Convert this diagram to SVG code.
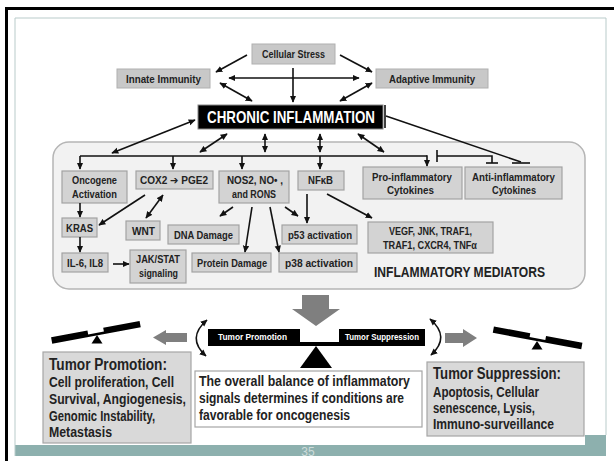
<svg xmlns="http://www.w3.org/2000/svg" width="614" height="461" viewBox="0 0 614 461">
<defs>
<style>
text{font-family:"Liberation Sans",Arial,"DejaVu Sans",sans-serif;font-weight:bold;fill:#222}
.bx{fill:#d3d3d3;stroke:#a3a3a3;stroke-width:1.2}
.tb{fill:#c8c8c8;stroke:#b0b0b0;stroke-width:1}
.t11{font-size:11px}
.t10{font-size:11px}
.c{stroke:#111;stroke-width:1.6;fill:none}
.a{marker-end:url(#ah)}
.d{marker-start:url(#ah);marker-end:url(#ah)}
.g{fill:#7f7f7f}
.big{font-size:16px}
.body{font-size:14.5px}
</style>
<marker id="ah" viewBox="0 0 10 10" refX="9" refY="5" markerWidth="7" markerHeight="7" markerUnits="userSpaceOnUse" orient="auto-start-reverse"><path d="M0,0.5 L10,5 L0,9.5 z" fill="#111"/></marker>
</defs>
<rect width="614" height="461" fill="#fff"/>
<rect x="15" y="435" width="591" height="21" fill="#8db0ae"/>
<rect x="15" y="18" width="570" height="427" fill="#fff"/>
<path d="M15,456 V18 H606 V435" fill="none" stroke="#b9cbca" stroke-width="1"/>
<path d="M6.5,461 V8.5 H614" fill="none" stroke="#000" stroke-width="3"/>
<text x="308" y="456" text-anchor="middle" style="font-size:12px;font-weight:normal;fill:#cddcdb">35</text>

<g id="panel">
<rect x="53" y="142" width="532" height="147" rx="16" fill="#f2f2f2" stroke="#b5b5b5" stroke-width="1.5"/>
<text x="374" y="277" textLength="171" lengthAdjust="spacingAndGlyphs" style="font-size:14px">INFLAMMATORY MEDIATORS</text>
</g>

<g id="cellular-stress"><rect class="tb" x="252" y="44" width="83" height="20"/><text class="t10" x="262" y="58" textLength="63" lengthAdjust="spacingAndGlyphs">Cellular Stress</text></g>
<g id="innate-immunity"><rect class="tb" x="117" y="69" width="93" height="19"/><text class="t10" x="126" y="82.5" textLength="75" lengthAdjust="spacingAndGlyphs">Innate Immunity</text></g>
<g id="adaptive-immunity"><rect class="tb" x="376" y="69" width="112" height="19"/><text class="t10" x="389" y="82.5" textLength="86" lengthAdjust="spacingAndGlyphs">Adaptive Immunity</text></g>
<g id="chronic-inflammation"><rect x="198" y="105" width="185" height="24" fill="#000" stroke="#888" stroke-width="1"/><text x="207" y="123" textLength="168" lengthAdjust="spacingAndGlyphs" style="font-size:16.5px;fill:#fff">CHRONIC INFLAMMATION</text></g>

<g id="oncogene"><rect class="bx" x="62" y="171" width="65" height="32"/><text class="t11" x="72" y="184" textLength="45" lengthAdjust="spacingAndGlyphs">Oncogene</text><text class="t11" x="72" y="197.5" textLength="45" lengthAdjust="spacingAndGlyphs">Activation</text></g>
<g id="cox2"><rect class="bx" x="136" y="171" width="77" height="18"/><text class="t11" x="140" y="184" textLength="68" lengthAdjust="spacingAndGlyphs">COX2 ➔ PGE2</text></g>
<g id="nos2"><rect class="bx" x="219" y="171" width="70" height="32"/><text class="t11" x="227" y="184" textLength="56" lengthAdjust="spacingAndGlyphs">NOS2, NO• ,</text><text class="t11" x="232" y="197.5" textLength="44" lengthAdjust="spacingAndGlyphs">and RONS</text></g>
<g id="nfkb"><rect class="bx" x="298" y="171" width="46" height="19"/><text class="t11" x="308" y="184" textLength="25" lengthAdjust="spacingAndGlyphs">NFκB</text></g>
<g id="pro-inflammatory"><rect class="bx" x="363" y="167" width="99" height="32"/><text class="t11" x="372" y="181" textLength="80" lengthAdjust="spacingAndGlyphs">Pro-inflammatory</text><text class="t11" x="387" y="194" textLength="47" lengthAdjust="spacingAndGlyphs">Cytokines</text></g>
<g id="anti-inflammatory"><rect class="bx" x="465" y="167" width="97" height="32"/><text class="t11" x="472" y="181" textLength="83" lengthAdjust="spacingAndGlyphs">Anti-inflammatory</text><text class="t11" x="492" y="194" textLength="44" lengthAdjust="spacingAndGlyphs">Cytokines</text></g>
<g id="kras"><rect class="bx" x="62" y="218" width="35" height="19"/><text class="t11" x="66" y="231.5" textLength="27" lengthAdjust="spacingAndGlyphs">KRAS</text></g>
<g id="wnt"><rect class="bx" x="126" y="221" width="34" height="19"/><text class="t11" x="132" y="234.5" textLength="23" lengthAdjust="spacingAndGlyphs">WNT</text></g>
<g id="dna-damage"><rect class="bx" x="168" y="225" width="71" height="19"/><text class="t11" x="174" y="238.5" textLength="59" lengthAdjust="spacingAndGlyphs">DNA Damage</text></g>
<g id="p53"><rect class="bx" x="282" y="225" width="75" height="19"/><text class="t11" x="288" y="238.5" textLength="64" lengthAdjust="spacingAndGlyphs">p53 activation</text></g>
<g id="vegf"><rect class="bx" x="368" y="222" width="125" height="31"/><text class="t11" x="389" y="235" textLength="83" lengthAdjust="spacingAndGlyphs">VEGF, JNK, TRAF1,</text><text class="t11" x="383" y="248.5" textLength="94" lengthAdjust="spacingAndGlyphs">TRAF1, CXCR4, TNFα</text></g>
<g id="il6"><rect class="bx" x="62" y="253" width="46" height="19"/><text class="t11" x="67" y="266.5" textLength="36" lengthAdjust="spacingAndGlyphs">IL-6, IL8</text></g>
<g id="jakstat"><rect class="bx" x="130" y="250" width="56" height="33"/><text class="t11" x="136" y="263" textLength="44" lengthAdjust="spacingAndGlyphs">JAK/STAT</text><text class="t11" x="139" y="277" textLength="39" lengthAdjust="spacingAndGlyphs">signaling</text></g>
<g id="protein-damage"><rect class="bx" x="192" y="253" width="79" height="19"/><text class="t11" x="197" y="266.5" textLength="70" lengthAdjust="spacingAndGlyphs">Protein Damage</text></g>
<g id="p38"><rect class="bx" x="279" y="253" width="78" height="19"/><text class="t11" x="285" y="266.5" textLength="68" lengthAdjust="spacingAndGlyphs">p38 activation</text></g>

<g id="connectors">
<line class="c a" x1="247" y1="55" x2="216" y2="72"/>
<line class="c a" x1="340" y1="55" x2="372" y2="72"/>
<line class="c a" x1="293" y1="68" x2="293" y2="102"/>
<line class="c d" x1="229" y1="78" x2="359" y2="78"/>
<line class="c d" x1="220" y1="83" x2="252" y2="101"/>
<line class="c d" x1="372" y1="83" x2="340" y2="101"/>
<line class="c d" x1="195" y1="120" x2="112" y2="153"/>
<line class="c d" x1="227" y1="134" x2="200" y2="152"/>
<line class="c d" x1="265" y1="134" x2="265" y2="152"/>
<line class="c d" x1="320" y1="134" x2="320" y2="152"/>
<line class="c d" x1="358" y1="134" x2="384" y2="152"/>
<line class="c" x1="385" y1="105" x2="385" y2="128"/>
<line class="c" x1="386" y1="116" x2="521" y2="162"/>
<line class="c" x1="512" y1="163" x2="530" y2="163"/>
<line class="c" x1="80" y1="156" x2="427" y2="156"/>
<line class="c a" x1="80" y1="156" x2="80" y2="169"/>
<line class="c a" x1="173" y1="156" x2="173" y2="169"/>
<line class="c a" x1="242" y1="156" x2="242" y2="169"/>
<line class="c a" x1="320" y1="156" x2="320" y2="169"/>
<line class="c a" x1="427" y1="155.2" x2="427" y2="166"/>
<path class="c" d="M437,156 H492 V163"/>
<line class="c" x1="437" y1="150" x2="437" y2="162"/>
<line class="c" x1="486" y1="163" x2="498" y2="163"/>
<line class="c a" x1="80" y1="203" x2="80" y2="217"/>
<line class="c a" x1="145" y1="195" x2="99" y2="225"/>
<line class="c d" x1="163" y1="195" x2="146" y2="218"/>
<line class="c a" x1="80" y1="237" x2="80" y2="252"/>
<line class="c a" x1="113" y1="264" x2="129" y2="264"/>
<line class="c a" x1="233" y1="207" x2="220" y2="216"/>
<line class="c a" x1="252" y1="207" x2="245" y2="252"/>
<line class="c a" x1="270" y1="207" x2="279" y2="252"/>
<line class="c a" x1="285" y1="207" x2="298" y2="216"/>
<line class="c a" x1="307" y1="194" x2="307" y2="223"/>
<line class="c a" x1="327" y1="194" x2="372" y2="218"/>
<path class="c d" d="M207,320 Q186,338 206,356"/>
<path class="c d" d="M430,319 Q451,337 431,355"/>
<polygon class="g" points="302,295 329,295 329,309 340,309 316,326 292,309 302,309"/>
<polygon class="g" points="187,333 166,333 166,330 153,337.5 166,345 166,342 187,342"/>
<polygon class="g" points="445,333 463,333 463,329 477,338 463,347 463,343 445,343"/>
</g>

<g id="balance">
<path d="M208,329 H300 V342 H339 V329 H425 V346 H208 Z" fill="#000"/>
<polygon points="316,346 300,368 332,368" fill="#000"/>
<text x="218" y="340" textLength="69" lengthAdjust="spacingAndGlyphs" style="font-size:8.5px;fill:#fff">Tumor Promotion</text>
<text x="345" y="340" textLength="74" lengthAdjust="spacingAndGlyphs" style="font-size:8.5px;fill:#fff">Tumor Suppression</text>
</g>
<g id="seesaw-left">
<path transform="translate(96.5,335.5) rotate(-10.5)" d="M-45,-6.5 H-8 V-2.5 H8 V-6.5 H45 V0 H-45 Z" fill="#000"/>
<polygon points="97,335 91.5,343.5 102.5,343.5" fill="#000"/>
</g>
<g id="seesaw-right">
<path transform="translate(537,341) rotate(10.5)" d="M-45,-6.5 H-8 V-2.5 H8 V-6.5 H45 V0 H-45 Z" fill="#000"/>
<polygon points="537,341 531.5,349.5 542.5,349.5" fill="#000"/>
</g>

<g id="tumor-promotion">
<rect x="43" y="352" width="148" height="91" fill="#d9d9d9" stroke="#a6a6a6" stroke-width="1.2"/>
<text class="big" x="49" y="369.5" textLength="118" lengthAdjust="spacingAndGlyphs">Tumor Promotion:</text>
<text class="body" x="49" y="387" textLength="125" lengthAdjust="spacingAndGlyphs">Cell proliferation, Cell</text>
<text class="body" x="49" y="403.5" textLength="137" lengthAdjust="spacingAndGlyphs">Survival, Angiogenesis,</text>
<text class="body" x="49" y="420.5" textLength="106" lengthAdjust="spacingAndGlyphs">Genomic Instability,</text>
<text class="body" x="49" y="437" textLength="63" lengthAdjust="spacingAndGlyphs">Metastasis</text>
</g>
<g id="balance-note">
<rect x="195" y="371" width="227" height="56" fill="#fff" stroke="#a6a6a6" stroke-width="1.2"/>
<text class="body" x="199" y="386" textLength="211" lengthAdjust="spacingAndGlyphs">The overall balance of inflammatory</text>
<text class="body" x="199" y="403" textLength="205" lengthAdjust="spacingAndGlyphs">signals determines if conditions are</text>
<text class="body" x="199" y="419.5" textLength="151" lengthAdjust="spacingAndGlyphs">favorable for oncogenesis</text>
</g>
<g id="tumor-suppression">
<rect x="427" y="362" width="157" height="74" fill="#d9d9d9" stroke="#a6a6a6" stroke-width="1.2"/>
<text class="big" x="433" y="378.5" textLength="128" lengthAdjust="spacingAndGlyphs">Tumor Suppression:</text>
<text class="body" x="433" y="396.5" textLength="106" lengthAdjust="spacingAndGlyphs">Apoptosis, Cellular</text>
<text class="body" x="433" y="412.5" textLength="102" lengthAdjust="spacingAndGlyphs">senescence, Lysis,</text>
<text class="body" x="433" y="429" textLength="121" lengthAdjust="spacingAndGlyphs">Immuno-surveillance</text>
</g>
</svg>
